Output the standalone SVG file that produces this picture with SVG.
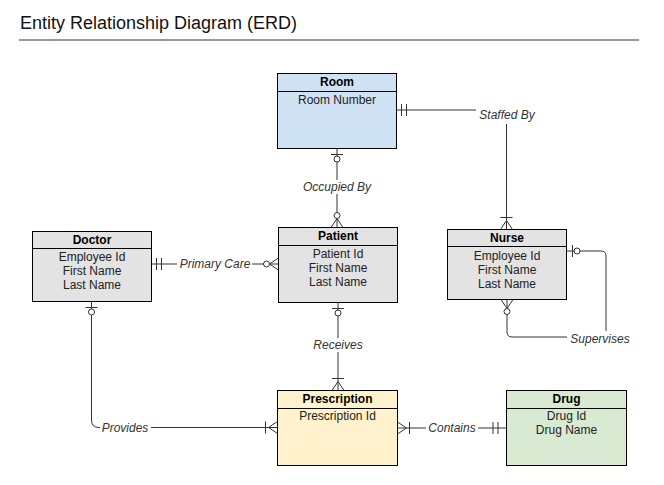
<svg xmlns="http://www.w3.org/2000/svg" xmlns:xlink="http://www.w3.org/1999/xlink" width="664" height="485" viewBox="0 0 664 485">
<style>
.box{stroke:#000;stroke-width:1}
.hdr{font:bold 12px "Liberation Sans",Arial,sans-serif;fill:#000;text-anchor:middle}
.attr{font:12px "Liberation Sans",Arial,sans-serif;fill:#222;text-anchor:middle}
.lbl{font:italic 12px "Liberation Sans",Arial,sans-serif;fill:#333;text-anchor:middle}
.title{font:18px "Liberation Sans",Arial,sans-serif;fill:#111}
.edge{fill:none;stroke:#333;stroke-width:1}
.mk{fill:none;stroke:#333;stroke-width:1}
.circ{fill:#fff;stroke:#333;stroke-width:1}
.lblbg{fill:#fff}
</style>
<defs>
<g id="mandOne"><path class="mk" d="M5,-6V6M10,-6V6"/></g>
<g id="zeroOne"><path class="mk" d="M6,-6V6"/><circle class="circ" cx="10.5" cy="0" r="3"/></g>
<g id="zeroMany"><path class="mk" d="M0,-6L9,0L0,6"/><circle class="circ" cx="12" cy="0" r="3"/></g>
<g id="oneMany"><path class="mk" d="M0,-6L9,0L0,6M12,-6V6"/></g>
</defs>
<rect width="664" height="485" fill="#fff"/>
<g id="title">
<text class="title" x="20" y="29">Entity Relationship Diagram (ERD)</text>
<path d="M19,40H639" stroke="#999" stroke-width="2"/>
</g>
<g id="connectors">
<!-- Occupied By -->
<path class="edge" d="M337,148.5V227.5"/>
<use xlink:href="#zeroOne" transform="translate(337,148.5) rotate(90)"/>
<use xlink:href="#zeroMany" transform="translate(337,227.5) rotate(-90)"/>
<rect class="lblbg" x="302" y="180" width="70" height="14"/>
<text class="lbl" x="337" y="191">Occupied By</text>
<!-- Receives -->
<path class="edge" d="M338,302.5V390.5"/>
<use xlink:href="#zeroOne" transform="translate(338,302.5) rotate(90)"/>
<use xlink:href="#oneMany" transform="translate(338,390.5) rotate(-90)"/>
<rect class="lblbg" x="312" y="338" width="52" height="14"/>
<text class="lbl" x="338" y="349">Receives</text>
<!-- Primary Care -->
<path class="edge" d="M151.5,264H278.5"/>
<use xlink:href="#mandOne" transform="translate(151.5,264)"/>
<use xlink:href="#zeroMany" transform="translate(278.5,264) rotate(180)"/>
<rect class="lblbg" x="177" y="257" width="75" height="14"/>
<text class="lbl" x="215" y="268">Primary Care</text>
<!-- Staffed By -->
<path class="edge" d="M396.5,110H506.5V229.5"/>
<use xlink:href="#mandOne" transform="translate(396.5,110)"/>
<use xlink:href="#oneMany" transform="translate(506.5,229.5) rotate(-90)"/>
<rect class="lblbg" x="476" y="104" width="62" height="20"/>
<text class="lbl" x="507" y="119">Staffed By</text>
<!-- Supervises -->
<path class="edge" d="M566.5,251H601Q606,251 606,256V332Q606,337 601,337H512Q507,337 507,332V299.5"/>
<use xlink:href="#zeroOne" transform="translate(566.5,251)"/>
<use xlink:href="#zeroMany" transform="translate(507,299.5) rotate(90)"/>
<rect class="lblbg" x="567" y="331" width="66" height="16"/>
<text class="lbl" x="600" y="343">Supervises</text>
<!-- Provides -->
<path class="edge" d="M91.5,301.5V420Q91.5,427.5 99,427.5H277.5"/>
<use xlink:href="#zeroOne" transform="translate(91.5,301.5) rotate(90)"/>
<use xlink:href="#oneMany" transform="translate(277.5,427.5) rotate(180)"/>
<rect class="lblbg" x="100" y="420" width="51" height="15"/>
<text class="lbl" x="125" y="431.5">Provides</text>
<!-- Contains -->
<path class="edge" d="M397.5,428H506.5"/>
<use xlink:href="#oneMany" transform="translate(397.5,428)"/>
<use xlink:href="#mandOne" transform="translate(503,428) rotate(180)"/>
<rect class="lblbg" x="426" y="421" width="52" height="14"/>
<text class="lbl" x="452" y="432">Contains</text>
</g>
<g id="room">
<rect class="box" x="277.5" y="73.5" width="119" height="75" fill="#cfe2f3"/>
<path class="box" d="M277.5,91.5H396.5"/>
<text class="hdr" x="337" y="86">Room</text>
<text class="attr" x="337" y="104">Room Number</text>
</g>
<g id="patient">
<rect class="box" x="278.5" y="227.5" width="119" height="75" fill="#e3e3e3"/>
<path class="box" d="M278.5,245.5H397.5"/>
<text class="hdr" x="338" y="240">Patient</text>
<text class="attr" x="338" y="258">Patient Id</text>
<text class="attr" x="338" y="272">First Name</text>
<text class="attr" x="338" y="286">Last Name</text>
</g>
<g id="doctor">
<rect class="box" x="32.5" y="231.5" width="119" height="70" fill="#e3e3e3"/>
<path class="box" d="M32.5,248.5H151.5"/>
<text class="hdr" x="92" y="244">Doctor</text>
<text class="attr" x="92" y="261">Employee Id</text>
<text class="attr" x="92" y="275">First Name</text>
<text class="attr" x="92" y="289">Last Name</text>
</g>
<g id="nurse">
<rect class="box" x="447.5" y="229.5" width="119" height="70" fill="#e3e3e3"/>
<path class="box" d="M447.5,246.5H566.5"/>
<text class="hdr" x="507" y="242">Nurse</text>
<text class="attr" x="507" y="260">Employee Id</text>
<text class="attr" x="507" y="274">First Name</text>
<text class="attr" x="507" y="288">Last Name</text>
</g>
<g id="prescription">
<rect class="box" x="277.5" y="390.5" width="120" height="75" fill="#fff2cc"/>
<path class="box" d="M277.5,408.5H397.5"/>
<text class="hdr" x="337.5" y="403">Prescription</text>
<text class="attr" x="337.5" y="420">Prescription Id</text>
</g>
<g id="drug">
<rect class="box" x="506.5" y="390.5" width="120" height="75" fill="#d9ead3"/>
<path class="box" d="M506.5,408.5H626.5"/>
<text class="hdr" x="566.5" y="403">Drug</text>
<text class="attr" x="566.5" y="420">Drug Id</text>
<text class="attr" x="566.5" y="434">Drug Name</text>
</g>
</svg>
